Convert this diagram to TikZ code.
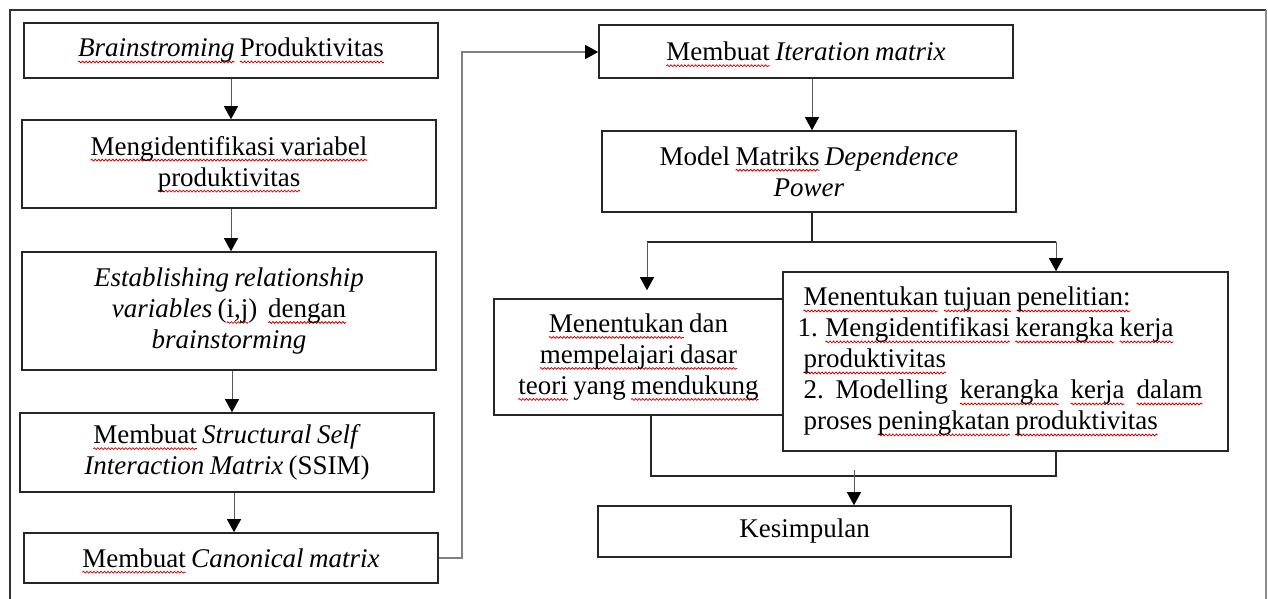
\documentclass[tikz,border=0pt]{standalone}
\usepackage{fontspec}
\setmainfont[WordSpace=0.8]{Liberation Serif}
\usetikzlibrary{arrows.meta,decorations.pathmorphing}
\newlength\sqw
\newcommand\sqg[1]{\settowidth\sqw{#1}\tikz[overlay,baseline=0pt]\draw[red!85!black, line width=0.8pt, decorate, decoration={snake, amplitude=0.9pt, segment length=3.5pt}] (0pt,-5pt) -- (\sqw,-5pt);#1}
\tikzset{
 box/.style={draw=black!85, line width=1.6pt, rectangle, inner sep=0pt, align=center, font=\fontsize{27}{31}\selectfont},
 tip/.style={-{Triangle[length=13pt,width=14pt,color=black]}},
 arr/.style={draw=black!65, line width=1pt, tip},
 ln/.style={draw=black!85, line width=1.3pt},
 gl/.style={draw=black!50, line width=1.3pt},
 frame/.style={draw=black!80, line width=1.5pt},
}
\begin{document}
\begin{tikzpicture}[x=1pt,y=-1pt]
\useasboundingbox (0,0) rectangle (1268,599);
% outer frame
\draw[frame] (10,599) -- (10,10) -- (1266,10);
\draw[draw=black!45, line width=1.2pt] (1266,10) -- (1266,599);

% left column
\node[box, minimum width=414pt, minimum height=55pt] (b1) at (231,50.5)
  {\sqg{\textit{Brainstroming}} \sqg{Produktivitas}};
\node[box, minimum width=414pt, minimum height=88pt] (b2) at (229,164)
  {\sqg{Mengidentifikasi variabel}\\ \sqg{produktivitas}};
\node[box, minimum width=414pt, minimum height=118pt] (b3) at (229,311)
  {\textit{Establishing relationship}\\ \textit{variables} (\sqg{i,j})\ \ \sqg{dengan}\\ \textit{brainstorming}};
\node[box, minimum width=414pt, minimum height=79pt] (b4) at (227,452.5)
  {\sqg{Membuat} \textit{Structural Self}\\ \textit{Interaction Matrix} (SSIM)};
\node[box, minimum width=414pt, minimum height=50pt] (b5) at (231,558)
  {\sqg{Membuat} \textit{Canonical matrix}};

\draw[arr] (b1.south) -- (b1.south |- b2.north);
\draw[arr] ([xshift=2pt]b2.south) -- ([xshift=2pt]b2.south |- b3.north);
\draw[arr] ([xshift=3pt]b3.south) -- ([xshift=3pt]b3.south |- b4.north);
\draw[arr] ([xshift=7pt]b4.south) -- ([xshift=7pt]b4.south |- b5.north);

% right column
\node[box, minimum width=414pt, minimum height=53pt] (it) at (806,51.5)
  {\sqg{Membuat} \textit{Iteration matrix}};
\node[box, minimum width=414pt, minimum height=81pt] (md) at (809,171.5)
  {Model \sqg{Matriks} \textit{Dependence}\\ \textit{Power}};

\coordinate (cr) at (462,558);
\coordinate (ct) at (462,52);
\draw[gl, tip] (b5.east) -- (cr) -- (ct) -- (it.west |- ct);

\draw[arr] ([xshift=6pt]it.south) -- ([xshift=6pt]it.south |- md.north);

\node[box, minimum width=289pt, minimum height=116pt] (dt) at (638.5,357)
  {\sqg{Menentukan} dan\\ \sqg{mempelajari dasar}\\ \sqg{teori} yang \sqg{mendukung}};
\node[box, minimum width=445pt, minimum height=179pt, text width=404pt, align=flush left] (tj) at (1005.5,361.5)
  {\sqg{Menentukan} \sqg{tujuan} \sqg{penelitian:}\\
   \hspace*{-6pt}1. \sqg{Mengidentifikasi} \sqg{kerangka} \sqg{kerja}\\
   \sqg{produktivitas}\\
   \makebox[399pt][s]{2.\ Modelling\ \sqg{kerangka}\ \sqg{kerja}\ \sqg{dalam}}\\
   proses \sqg{peningkatan} \sqg{produktivitas}};

\coordinate (j1) at (812,242);
\coordinate (bl) at (647,242);
\coordinate (br) at (1056,242);
\draw[ln] ([xshift=3pt]md.south) -- (j1);
\draw[ln] (bl) -- (br);
\draw[arr, shorten >=8pt] (bl) -- (bl |- dt.north);
\draw[arr] (br) -- (br |- tj.north);

\coordinate (kl) at (651,476);
\coordinate (kr) at (1056,476);
\coordinate (km) at (854,470);
\node[box, minimum width=413pt, minimum height=51pt] (ks) at (804.5,531.5) {Kesimpulan};
\draw[ln] (kl |- dt.south) -- (kl) -- (kr) -- (kr |- tj.south);
\draw[arr] (km) -- (km |- ks.north);
\end{tikzpicture}
\end{document}
